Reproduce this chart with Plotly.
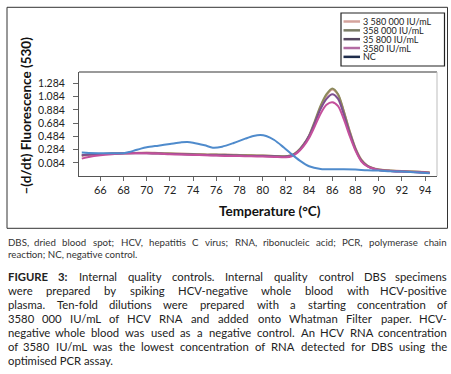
import plotly.graph_objects as go

# ---------------- data ----------------
T_POS = [64.4, 65, 66, 67, 68, 69, 70, 71, 72, 73, 74, 75, 76, 77, 78, 79, 80, 81, 82, 82.5,
         83, 83.5, 84, 84.5, 85, 85.5, 86, 86.5, 87, 87.5, 88, 88.5, 89, 89.5, 90, 91, 92, 93, 94, 94.4]

S_3580000 = [0.19, 0.205, 0.215, 0.225, 0.23, 0.235, 0.24, 0.235, 0.23, 0.225, 0.22, 0.215, 0.21, 0.21, 0.205, 0.2,
             0.195, 0.19, 0.185, 0.2, 0.25, 0.35, 0.49, 0.70, 0.93, 1.10, 1.19, 1.11, 0.86, 0.57, 0.31, 0.14, 0.05,
             0.01, -0.01, -0.03, -0.035, -0.045, -0.05, -0.055]
S_358000 = [0.20, 0.21, 0.22, 0.225, 0.23, 0.235, 0.235, 0.23, 0.225, 0.22, 0.215, 0.21, 0.21, 0.205, 0.20, 0.20,
            0.195, 0.19, 0.185, 0.20, 0.26, 0.36, 0.50, 0.72, 0.95, 1.12, 1.205, 1.12, 0.86, 0.56, 0.30, 0.13, 0.045,
            0.005, -0.015, -0.03, -0.04, -0.045, -0.055, -0.06]
S_35800 = [0.20, 0.21, 0.22, 0.225, 0.23, 0.23, 0.23, 0.225, 0.22, 0.215, 0.21, 0.205, 0.2, 0.2, 0.195, 0.19,
           0.19, 0.185, 0.18, 0.195, 0.25, 0.35, 0.49, 0.69, 0.90, 1.05, 1.12, 1.05, 0.81, 0.53, 0.29, 0.12, 0.04,
           0.0, -0.02, -0.035, -0.045, -0.05, -0.06, -0.065]
S_3580 = [0.15, 0.175, 0.2, 0.215, 0.225, 0.23, 0.23, 0.225, 0.215, 0.21, 0.205, 0.2, 0.195, 0.19, 0.19, 0.185,
          0.18, 0.175, 0.17, 0.185, 0.24, 0.33, 0.46, 0.64, 0.83, 0.96, 1.00, 0.94, 0.74, 0.49, 0.27, 0.11, 0.035,
          0.0, -0.02, -0.035, -0.045, -0.05, -0.06, -0.065]

T_NC = [64.4, 65, 66, 67, 68, 68.5, 69, 69.5, 70, 71, 72, 73, 73.5, 74, 75, 75.7, 76.5, 77.5, 78.5, 79.2,
        79.8, 80.3, 81, 81.8, 82.4, 83.2, 84, 85, 86, 87, 88, 89, 90, 91, 92, 93, 94, 94.4]
S_NC = [0.24, 0.235, 0.232, 0.23, 0.232, 0.25, 0.275, 0.30, 0.32, 0.345, 0.37, 0.395, 0.40, 0.39, 0.35, 0.315,
        0.33, 0.385, 0.45, 0.49, 0.505, 0.49, 0.43, 0.32, 0.23, 0.12, 0.035, -0.005, -0.01, -0.01, -0.015, -0.025,
        -0.03, -0.04, -0.045, -0.055, -0.065, -0.07]

SERIES_NAMES = ["3 580 000 IU/mL", "358 000 IU/mL", "35 800 IU/mL", "3580 IU/mL", "NC"]
LINE_COLORS = ["#d29a90", "#8c8a5c", "#7d4f8f", "#c4509c", "#4f8bcc"]
LEGEND_COLORS = ["#d4a39c", "#7b7d66", "#55475f", "#b36ba3", "#1f2d4c"]

Y_TICKS = [0.084, 0.284, 0.484, 0.684, 0.884, 1.084, 1.284]
X_TICKS = [66, 68, 70, 72, 74, 76, 78, 80, 82, 84, 86, 88, 90, 92, 94]

ABBREV_LINES = [
    "DBS, dried blood spot; HCV, hepatitis C virus; RNA, ribonucleic acid; PCR, polymerase chain",
    "reaction; NC, negative control.",
]
CAPTION_LINES = [
    "FIGURE 3: Internal quality controls. Internal quality control DBS specimens",
    "were prepared by spiking HCV-negative whole blood with HCV-positive",
    "plasma. Ten-fold dilutions were prepared with a starting concentration of",
    "3580 000 IU/mL of HCV RNA and added onto Whatman Filter paper. HCV-",
    "negative whole blood was used as a negative control. An HCV RNA concentration",
    "of 3580 IU/mL was the lowest concentration of RNA detected for DBS using the",
    "optimised PCR assay.",
]

# ---------------- layout helpers ----------------
W_FIG, H_FIG = 451, 374
ML, MR, MT, MB = 79, 14, 72, 198
PW, PH = W_FIG - ML - MR, H_FIG - MT - MB


def PX(px):
    return (px - ML) / PW


def PY(py):
    return (H_FIG - MB - py) / PH


FONT = "Lato"

fig = go.Figure()
pos_series = [S_3580000, S_358000, S_35800, S_3580]
for name, ys, col in zip(SERIES_NAMES[:4], pos_series, LINE_COLORS[:4]):
    fig.add_trace(go.Scatter(x=T_POS, y=ys, mode="lines", name=name,
                             line=dict(color=col, width=2, shape="spline", smoothing=0.8),
                             showlegend=False, hoverinfo="skip"))
fig.add_trace(go.Scatter(x=T_NC, y=S_NC, mode="lines", name=SERIES_NAMES[4],
                         line=dict(color=LINE_COLORS[4], width=2, shape="spline", smoothing=0.8),
                         showlegend=False, hoverinfo="skip"))

annotations = []
shapes = []

# outer frame
shapes.append(dict(type="rect", xref="paper", yref="paper", x0=PX(7), x1=PX(447.5), y0=PY(228.3), y1=PY(7.3),
                   line=dict(color="#333333", width=1)))
# plot area top / right borders
shapes.append(dict(type="line", xref="paper", yref="paper", x0=0, x1=1, y0=1, y1=1,
                   line=dict(color="#9a9a9a", width=2)))
shapes.append(dict(type="line", xref="paper", yref="paper", x0=1, x1=1, y0=0, y1=1,
                   line=dict(color="#bdbdbd", width=1)))

# manual legend (single multi-line text block so rows can sit tightly)
LX0, LX1, LY0, LY1 = 341, 444.5, 13, 66
ROW0, ROW_STEP = 21.5, 8.84
shapes.append(dict(type="rect", xref="paper", yref="paper", x0=PX(LX0), x1=PX(LX1), y0=PY(LY1), y1=PY(LY0),
                   line=dict(color="#222222", width=1.2), fillcolor="white"))
for i, col in enumerate(LEGEND_COLORS):
    yy = ROW0 + i * ROW_STEP
    shapes.append(dict(type="line", xref="paper", yref="paper", x0=PX(343.5), x1=PX(360), y0=PY(yy), y1=PY(yy),
                       line=dict(color=col, width=2.5)))
legend_text = "<br>".join('<span style="font-size:9px">%s</span>' % n for n in SERIES_NAMES)
annotations.append(dict(xref="paper", yref="paper", x=PX(362), y=PY(ROW0 + 2 * ROW_STEP), text=legend_text,
                        showarrow=False, xanchor="left", yanchor="middle", align="left", borderpad=0,
                        font=dict(family=FONT, size=6.8, color="#222222")))

# axis titles
annotations.append(dict(xref="paper", yref="paper", x=PX(25.5), y=PY(116), text="–(d/dt) Fluorescence (530)",
                        textangle=-90, showarrow=False, xanchor="center", yanchor="middle",
                        font=dict(family=FONT, size=13.5, color="#111111", weight="bold")))
annotations.append(dict(xref="paper", yref="paper", x=PX(270), y=PY(211), text="<b>Temperature (°C)</b>",
                        showarrow=False, xanchor="center", yanchor="middle",
                        font=dict(family=FONT, size=13.5, color="#111111")))

# ---- justified caption text ----
CW = {}
for c, w in {"a": .51, "b": .56, "c": .46, "d": .56, "e": .52, "f": .32, "g": .50, "h": .56, "i": .24, "j": .24,
             "k": .50, "l": .24, "m": .84, "n": .56, "o": .56, "p": .56, "q": .56, "r": .36, "s": .42, "t": .35,
             "u": .56, "v": .50, "w": .76, "x": .49, "y": .50, "z": .44, "I": .27, "C": .64, "D": .71, "B": .60,
             "S": .52, "H": .74, "V": .66, "R": .60, "N": .74, "A": .67, "P": .57, "F": .53, "G": .70, "U": .70,
             "L": .48, "M": .88, "W": .98, "T": .56, "E": .55, ".": .23, ",": .23, ";": .25, ":": .25, "-": .33,
             "/": .37, "(": .30, ")": .30}.items():
    CW[c] = w


def tw(s, size, bold=False):
    w = sum(CW.get(c, 0.58 if c.isdigit() else 0.55) for c in s) * size
    return w * 1.06 if bold else w


def add_line(text, py, size, justify, bold_words=0, x0=7, x1=447.5, color="#222222"):
    words = text.split(" ")
    fmt = [("<b>%s</b>" % w) if i < bold_words else w for i, w in enumerate(words)]
    if not justify:
        annotations.append(dict(xref="paper", yref="paper", x=PX(x0), y=PY(py), text=" ".join(fmt),
                                showarrow=False, xanchor="left", yanchor="middle", borderpad=0,
                                font=dict(family=FONT, size=size, color=color)))
        return
    widths = [tw(w, size, i < bold_words) for i, w in enumerate(words)]
    gap = (x1 - x0 - sum(widths)) / (len(words) - 1)
    cur = x0
    for i, (w, f, wd) in enumerate(zip(words, fmt, widths)):
        if i == 0:
            x, anc = x0, "left"
        elif i == len(words) - 1:
            x, anc = x1, "right"
        else:
            x, anc = cur + wd / 2, "center"
        annotations.append(dict(xref="paper", yref="paper", x=PX(x), y=PY(py), text=f, showarrow=False,
                                xanchor=anc, yanchor="middle", borderpad=0,
                                font=dict(family=FONT, size=size, color=color)))
        cur += wd + gap


add_line(ABBREV_LINES[0], 241.7, 9.7, True, color="#333333")
add_line(ABBREV_LINES[1], 254.3, 9.7, False, color="#333333")
for k, line in enumerate(CAPTION_LINES):
    add_line(line, 276.7 + 14 * k, 11.3, k < len(CAPTION_LINES) - 1, bold_words=2 if k == 0 else 0)

fig.update_layout(
    width=W_FIG, height=H_FIG,
    margin=dict(l=ML, r=MR, t=MT, b=MB, pad=0),
    paper_bgcolor="white", plot_bgcolor="white",
    showlegend=False,
    font=dict(family=FONT, size=10.5, color="#222222"),
    xaxis=dict(range=[64.16, 95.03], tickvals=X_TICKS, ticktext=[str(v) for v in X_TICKS],
               showgrid=False, zeroline=False, showline=True, linecolor="#555555", linewidth=1,
               ticks="outside", ticklen=4, tickcolor="#666666", tickfont=dict(family=FONT, size=11, color="#222222")),
    yaxis=dict(range=[-0.112, 1.454], tickvals=Y_TICKS, ticktext=["%.3f" % v for v in Y_TICKS],
               showgrid=False, zeroline=False, showline=True, linecolor="#555555", linewidth=1,
               ticks="outside", ticklen=5, tickcolor="#666666", ticklabelstandoff=6,
               tickfont=dict(family=FONT, size=10.5, color="#222222")),
    annotations=annotations,
    shapes=shapes,
)

fig.write_html("out.html", config={"displayModeBar": False},
               post_script="document.body.style.margin='0';document.body.style.padding='0';")
